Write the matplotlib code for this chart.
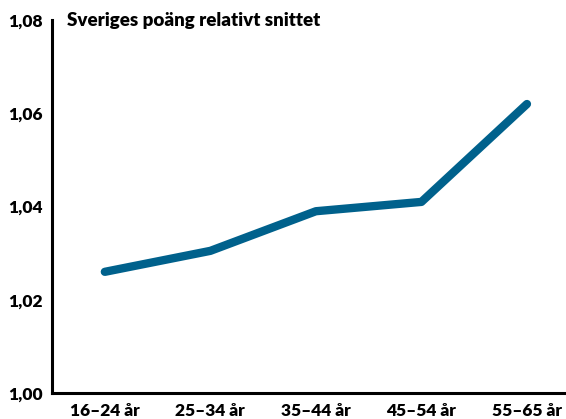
import numpy as np
import matplotlib
matplotlib.use('Agg')
import matplotlib.pyplot as plt

plt.rcParams['font.family'] = ['Lato', 'DejaVu Sans']

age_groups = ['16–24 år', '25–34 år', '35–44 år', '45–54 år', '55–65 år']
scores = [1.026, 1.0305, 1.039, 1.041, 1.062]
yticks = [1.00, 1.02, 1.04, 1.06, 1.08]
ytick_labels = ['1,00', '1,02', '1,04', '1,06', '1,08']

fig = plt.figure(figsize=(5.66, 4.19), dpi=100)
ax = fig.add_axes([0.092, 0.062, 0.908, 0.89])

x = np.arange(len(age_groups))
ax.plot(x, scores, color='#00618c', linewidth=6, solid_capstyle='round', solid_joinstyle='round')

ax.set_xlim(-0.5, 4.37)
ax.set_ylim(1.00, 1.08)
ax.set_yticks(yticks)
ax.set_yticklabels(ytick_labels, fontsize=12.5, fontweight='heavy')
ax.set_xticks(x)
ax.set_xticklabels(age_groups, fontsize=12.5, fontweight='heavy')
ax.tick_params(length=0, pad=7)

for side in ['top', 'right']:
    ax.spines[side].set_visible(False)
for side in ['left', 'bottom']:
    ax.spines[side].set_linewidth(2.2)

ax.text(0.03, 1.0, 'Sveriges poäng relativt snittet', transform=ax.transAxes,
        fontsize=13.5, fontweight='heavy', va='center', ha='left')

fig.savefig('out.png', dpi=100)
